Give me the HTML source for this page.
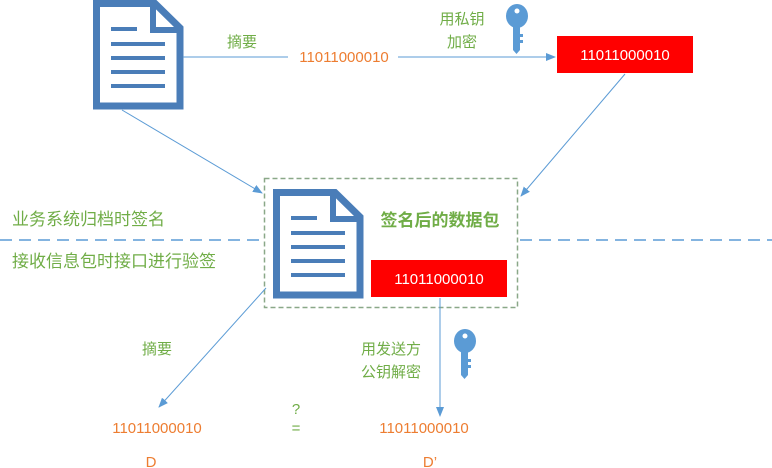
<!DOCTYPE html>
<html><head><meta charset="utf-8"><style>
html,body{margin:0;padding:0;background:#fff;}
svg{display:block;}
text{font-family:"Liberation Sans","Noto Sans CJK SC",sans-serif;}
</style></head><body>
<svg width="772" height="468" viewBox="0 0 772 468" xmlns="http://www.w3.org/2000/svg">
<defs>
<marker id="ar" markerWidth="10" markerHeight="10" refX="9" refY="5" orient="auto" markerUnits="userSpaceOnUse">
<path d="M0,1 L10,5 L0,9 z" fill="#5b9bd5"/>
</marker>
<g id="doc">
<path d="M3.5,3.5 H62 L87,28 V106 H3.5 Z" fill="#fff" stroke="#4a7db8" stroke-width="7"/>
<path d="M60,3 V30 H87" fill="none" stroke="#4a7db8" stroke-width="6"/>
<g stroke="#4a7db8" stroke-width="4">
<line x1="18" y1="29" x2="44" y2="29"/>
<line x1="18" y1="44" x2="72" y2="44"/>
<line x1="18" y1="58" x2="72" y2="58"/>
<line x1="18" y1="72" x2="72" y2="72"/>
<line x1="18" y1="86" x2="72" y2="86"/>
</g>
</g>
<g id="key">
<ellipse cx="11" cy="12" rx="11" ry="12" fill="#5b9bd5"/>
<circle cx="11" cy="7" r="2.5" fill="#fff"/>
<rect x="7" y="20" width="7" height="26" fill="#5b9bd5"/>
<path d="M14,30 h3 v3 h-3 M14,36 h3 v3 h-3" fill="#5b9bd5"/>
<path d="M7,46 L10.5,50 L14,46 z" fill="#5b9bd5"/>
</g>
</defs>

<use href="#doc" x="93" y="0"/>
<line x1="183" y1="57" x2="288" y2="57" stroke="#5b9bd5" stroke-width="1"/>
<line x1="398" y1="57" x2="555" y2="57" stroke="#5b9bd5" stroke-width="1" marker-end="url(#ar)"/>
<text x="242" y="47" font-size="15" fill="#70ad47" text-anchor="middle">摘要</text>
<text x="344" y="62" font-size="15" fill="#ed7d31" text-anchor="middle">11011000010</text>
<text x="462" y="24" font-size="15" fill="#70ad47" text-anchor="middle">用私钥</text>
<text x="462" y="47" font-size="15" fill="#70ad47" text-anchor="middle">加密</text>
<use href="#key" x="506" y="4"/>
<rect x="557" y="36" width="136" height="37" fill="#ff0000"/>
<text x="625" y="60" font-size="15" fill="#fff" text-anchor="middle">11011000010</text>

<line x1="122" y1="110" x2="262" y2="193" stroke="#5b9bd5" stroke-width="1" marker-end="url(#ar)"/>
<line x1="625" y1="74" x2="521" y2="196" stroke="#5b9bd5" stroke-width="1" marker-end="url(#ar)"/>

<line x1="0" y1="240" x2="262" y2="240" stroke="#5b9bd5" stroke-width="1.5" stroke-dasharray="12,7"/>
<line x1="520" y1="240" x2="772" y2="240" stroke="#5b9bd5" stroke-width="1.5" stroke-dasharray="12,7"/>
<text x="12" y="225" font-size="17" fill="#70ad47">业务系统归档时签名</text>
<text x="12" y="267" font-size="17" fill="#70ad47">接收信息包时接口进行验签</text>

<rect x="264.5" y="178.5" width="253" height="129" fill="none" stroke="#8aa888" stroke-width="1.5" stroke-dasharray="5,3"/>
<use href="#doc" x="273" y="189"/>
<text x="440" y="226" font-size="17" font-weight="bold" fill="#70ad47" text-anchor="middle">签名后的数据包</text>
<rect x="371" y="260" width="136" height="37" fill="#ff0000"/>
<text x="439" y="284" font-size="15" fill="#fff" text-anchor="middle">11011000010</text>

<line x1="266" y1="288" x2="159" y2="407" stroke="#5b9bd5" stroke-width="1" marker-end="url(#ar)"/>
<line x1="440" y1="298" x2="440" y2="416" stroke="#5b9bd5" stroke-width="1" marker-end="url(#ar)"/>
<text x="157" y="354" font-size="15" fill="#70ad47" text-anchor="middle">摘要</text>
<text x="391" y="354" font-size="15" fill="#70ad47" text-anchor="middle">用发送方</text>
<text x="391" y="377" font-size="15" fill="#70ad47" text-anchor="middle">公钥解密</text>
<use href="#key" x="454" y="329"/>
<text x="296" y="414" font-size="15" fill="#70ad47" text-anchor="middle">?</text>
<text x="296" y="433" font-size="15" fill="#70ad47" text-anchor="middle">=</text>
<text x="157" y="433" font-size="15" fill="#ed7d31" text-anchor="middle">11011000010</text>
<text x="424" y="433" font-size="15" fill="#ed7d31" text-anchor="middle">11011000010</text>
<text x="151" y="467" font-size="15" fill="#ed7d31" text-anchor="middle">D</text>
<text x="430" y="467" font-size="15" fill="#ed7d31" text-anchor="middle">D’</text>
</svg>
</body></html>
